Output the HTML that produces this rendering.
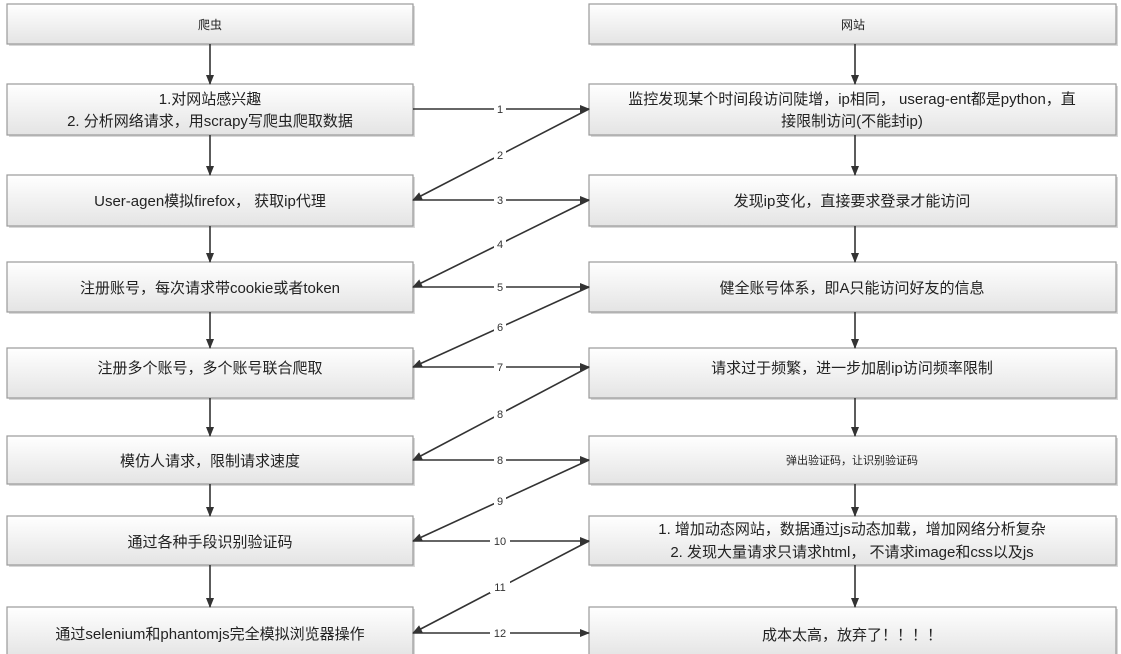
<!DOCTYPE html>
<html><head><meta charset="utf-8"><style>
html,body{margin:0;padding:0;background:#fff;}
svg{display:block;font-family:"Liberation Sans","Noto Sans CJK SC",sans-serif;}
</style></head><body>
<svg width="1121" height="654" viewBox="0 0 1121 654" xmlns="http://www.w3.org/2000/svg">
<defs>
<linearGradient id="g" x1="0" y1="0" x2="0" y2="1">
<stop offset="0" stop-color="#ffffff"/><stop offset="1" stop-color="#e4e4e4"/>
</linearGradient>
<marker id="a" markerWidth="10" markerHeight="8" refX="9" refY="4" orient="auto" markerUnits="userSpaceOnUse">
<path d="M0,0 L10,4 L0,8 z" fill="#333"/>
</marker>
</defs>
<g fill="#d8d8d8">
<rect x="9" y="6" width="406" height="40"/><rect x="9" y="86" width="406" height="51"/>
<rect x="9" y="177" width="406" height="51"/><rect x="9" y="264" width="406" height="50"/>
<rect x="9" y="350" width="406" height="50"/><rect x="9" y="438" width="406" height="48"/>
<rect x="9" y="518" width="406" height="49"/><rect x="9" y="609" width="406" height="50"/>
<rect x="591" y="6" width="527" height="40"/><rect x="591" y="86" width="527" height="51"/>
<rect x="591" y="177" width="527" height="51"/><rect x="591" y="264" width="527" height="50"/>
<rect x="591" y="350" width="527" height="50"/><rect x="591" y="438" width="527" height="48"/>
<rect x="591" y="518" width="527" height="49"/><rect x="591" y="609" width="527" height="50"/>
</g>
<g stroke="#9a9a9a" stroke-width="1.2" fill="url(#g)">
<rect x="7" y="4" width="406" height="40"/>
<rect x="7" y="84" width="406" height="51"/>
<rect x="7" y="175" width="406" height="51"/>
<rect x="7" y="262" width="406" height="50"/>
<rect x="7" y="348" width="406" height="50"/>
<rect x="7" y="436" width="406" height="48"/>
<rect x="7" y="516" width="406" height="49"/>
<rect x="7" y="607" width="406" height="50"/>
<rect x="589" y="4" width="527" height="40"/>
<rect x="589" y="84" width="527" height="51"/>
<rect x="589" y="175" width="527" height="51"/>
<rect x="589" y="262" width="527" height="50"/>
<rect x="589" y="348" width="527" height="50"/>
<rect x="589" y="436" width="527" height="48"/>
<rect x="589" y="516" width="527" height="49"/>
<rect x="589" y="607" width="527" height="50"/>
</g>
<g stroke="#333" stroke-width="1.6" marker-end="url(#a)">
<line x1="210" y1="44" x2="210" y2="84"/>
<line x1="210" y1="135" x2="210" y2="175"/>
<line x1="210" y1="226" x2="210" y2="262"/>
<line x1="210" y1="312" x2="210" y2="348"/>
<line x1="210" y1="398" x2="210" y2="436"/>
<line x1="210" y1="484" x2="210" y2="516"/>
<line x1="210" y1="565" x2="210" y2="607"/>
<line x1="855" y1="44" x2="855" y2="84"/>
<line x1="855" y1="135" x2="855" y2="175"/>
<line x1="855" y1="226" x2="855" y2="262"/>
<line x1="855" y1="312" x2="855" y2="348"/>
<line x1="855" y1="398" x2="855" y2="436"/>
<line x1="855" y1="484" x2="855" y2="516"/>
<line x1="855" y1="565" x2="855" y2="607"/>
<line x1="413" y1="109" x2="589" y2="109"/>
<line x1="589" y1="109" x2="413" y2="200"/>
<line x1="413" y1="200" x2="589" y2="200"/>
<line x1="589" y1="200" x2="413" y2="287"/>
<line x1="413" y1="287" x2="589" y2="287"/>
<line x1="589" y1="287" x2="413" y2="367"/>
<line x1="413" y1="367" x2="589" y2="367"/>
<line x1="589" y1="367" x2="413" y2="460"/>
<line x1="413" y1="460" x2="589" y2="460"/>
<line x1="589" y1="460" x2="413" y2="541"/>
<line x1="413" y1="541" x2="589" y2="541"/>
<line x1="589" y1="541" x2="413" y2="633"/>
<line x1="413" y1="633" x2="589" y2="633"/>
</g>
<g font-size="11" fill="#333" text-anchor="middle">
<g fill="#fff" stroke="none">
<rect x="494" y="102" width="12" height="13"/><rect x="494" y="148" width="12" height="13"/>
<rect x="494" y="193" width="12" height="13"/><rect x="494" y="237" width="12" height="13"/>
<rect x="494" y="280" width="12" height="13"/><rect x="494" y="320" width="12" height="13"/>
<rect x="494" y="360" width="12" height="13"/><rect x="494" y="407" width="12" height="13"/>
<rect x="494" y="453" width="12" height="13"/><rect x="494" y="494" width="12" height="13"/>
<rect x="490" y="534" width="20" height="13"/><rect x="490" y="580" width="20" height="13"/>
<rect x="490" y="626" width="20" height="13"/>
</g>
<text x="500" y="113">1</text><text x="500" y="159">2</text>
<text x="500" y="204">3</text><text x="500" y="248">4</text>
<text x="500" y="291">5</text><text x="500" y="331">6</text>
<text x="500" y="371">7</text><text x="500" y="418">8</text>
<text x="500" y="464">8</text><text x="500" y="505">9</text>
<text x="500" y="545">10</text><text x="500" y="591">11</text>
<text x="500" y="637">12</text>
</g>
<g fill="#222" text-anchor="middle" font-size="15">
<text x="210" y="29" font-size="12">爬虫</text>
<text x="853" y="29" font-size="12">网站</text>
<text x="210" y="104">1.对网站感兴趣</text>
<text x="210" y="126">2. 分析网络请求，用scrapy写爬虫爬取数据</text>
<text x="210" y="206">User-agen模拟firefox， 获取ip代理</text>
<text x="210" y="293">注册账号，每次请求带cookie或者token</text>
<text x="210" y="373">注册多个账号，多个账号联合爬取</text>
<text x="210" y="466">模仿人请求，限制请求速度</text>
<text x="210" y="547">通过各种手段识别验证码</text>
<text x="210" y="639">通过selenium和phantomjs完全模拟浏览器操作</text>
<text x="852" y="104">监控发现某个时间段访问陡增，ip相同， userag-ent都是python，直</text>
<text x="852" y="126">接限制访问(不能封ip)</text>
<text x="852" y="206">发现ip变化，直接要求登录才能访问</text>
<text x="852" y="293">健全账号体系，即A只能访问好友的信息</text>
<text x="852" y="373">请求过于频繁，进一步加剧ip访问频率限制</text>
<text x="852" y="464" font-size="11">弹出验证码，让识别验证码</text>
<text x="852" y="534">1. 增加动态网站，数据通过js动态加载，增加网络分析复杂</text>
<text x="852" y="557">2. 发现大量请求只请求html， 不请求image和css以及js</text>
<text x="852" y="640">成本太高，放弃了！！！！</text>
</g>
</svg>
</body></html>
